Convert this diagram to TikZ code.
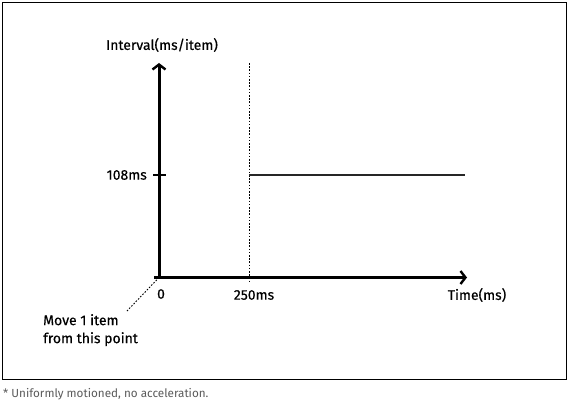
\documentclass[tikz,border=0pt]{standalone}
\usepackage{fontspec}
\setmainfont{Fira Sans}[FakeBold=0.4]
\newfontfamily\notefont{Fira Sans}
\usetikzlibrary{arrows.meta}
\definecolor{notegray}{RGB}{90,90,90}
\tikzset{
  axis/.style={line width=3pt, -{Straight Barb[length=5pt,width=13pt,line width=2.4pt]}},
  lbl/.style={font=\fontsize{14}{16}\selectfont, inner sep=0pt},
  tickline/.style={line width=1.2pt},
  guide/.style={line width=0.9pt, dash pattern=on 1.6pt off 1.6pt},
  valline/.style={line width=1.3pt, draw=black!85},
}
\begin{document}
\begin{tikzpicture}[x=1pt,y=-1pt]
\useasboundingbox (0,0) rectangle (569,403);
\draw[line width=1pt] (2.5,2.5) rectangle (566.5,379.5);
% coordinates
\coordinate (o) at (159,277.5);
\coordinate (oleft) at (154,277.5);
\coordinate (ytop) at (159,63);
\coordinate (xend) at (467,277.5);
\coordinate (dtop) at (249,63);
\coordinate (dbot) at (249,282);
\coordinate (hstart) at (249,175);
\coordinate (hend) at (465,175);
\coordinate (tl) at (153,175);
\coordinate (tr) at (166,175);
\coordinate (lead) at (126,312);
% guide
\draw[guide] (dtop) -- (dbot);
\draw[valline] (hstart) -- (hend);
\draw[tickline] (tl) -- (tr);
% axes
\draw[axis] (o) -- (ytop);
\draw[axis] (oleft) -- (xend);
\draw[guide] (o) -- (lead);
% labels
\node[lbl] (ylab) at (162,45) {Interval(ms/item)};
\node[lbl, anchor=east] (v108) at (147,175) {108ms};
\node[lbl] (zero) at (161,294) {0};
\node[lbl] (t250) at (254,295) {250ms};
\node[lbl] (xlab) at (477,295) {Time(ms)};
\node[lbl, anchor=north west, align=left, font=\fontsize{14}{18}\selectfont] (move) at (43,314) {Move 1 item\\from this point};
\node[inner sep=0pt, anchor=west, text=notegray, font=\notefont\fontsize{11.7}{13}\selectfont] (note) at (3,394) {* Uniformly motioned, no acceleration.};
\end{tikzpicture}
\end{document}
